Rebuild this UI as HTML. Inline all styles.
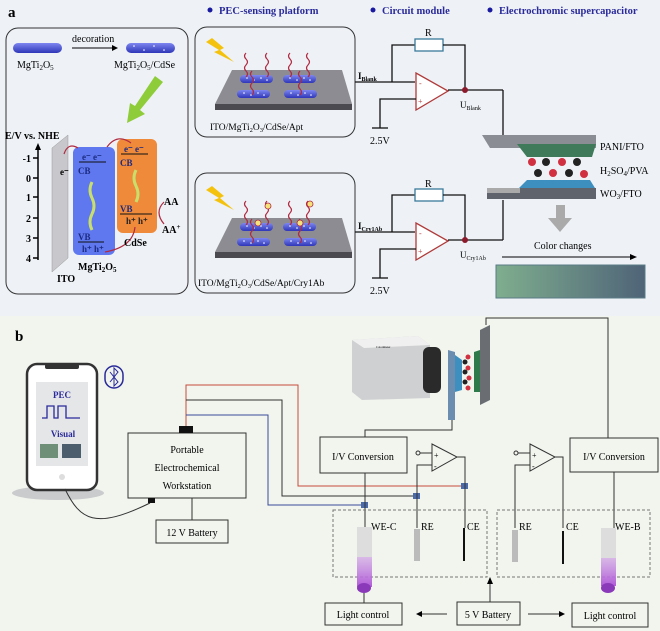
<!DOCTYPE html>
<html><head><meta charset="utf-8"><style>
body{margin:0;background:#fff}
svg{display:block;font-family:"Liberation Serif",serif}
</style></head><body>
<svg width="660" height="631" viewBox="0 0 660 631" xmlns="http://www.w3.org/2000/svg">
<defs>
<linearGradient id="rod" x1="0" y1="0" x2="0" y2="1"><stop offset="0" stop-color="#7d86f0"/><stop offset="1" stop-color="#2f36b8"/></linearGradient>
<linearGradient id="cg" x1="0" y1="0" x2="1" y2="0"><stop offset="0" stop-color="#7fae8e"/><stop offset="1" stop-color="#4f6478"/></linearGradient>
<linearGradient id="uv" x1="0" y1="0" x2="0" y2="1"><stop offset="0" stop-color="#e6d8ee" stop-opacity="0.3"/><stop offset="1" stop-color="#b15ad8"/></linearGradient>
<g id="rodd"><rect x="0" y="0" width="33" height="8" rx="4" fill="url(#rod)"/><circle cx="7" cy="3" r="0.8" fill="#fff"/><circle cx="14" cy="5" r="0.8" fill="#fff"/><circle cx="21" cy="3" r="0.8" fill="#fff"/><circle cx="27" cy="5" r="0.8" fill="#fff"/></g>
<g id="plat"><polygon points="232,70 342,70 352,104 215,104" fill="#8c8c92"/><rect x="215" y="104" width="137" height="6" fill="#4a4a50"/>
<use href="#rodd" x="240" y="75"/><use href="#rodd" x="283" y="75"/><use href="#rodd" x="237" y="90"/><use href="#rodd" x="284" y="90"/>
<polygon points="212,38 224,48 220,50 234,62 214,52 219,50 206,42" fill="#f4c20d"/></g>
<g id="wave" fill="none" stroke="#b02a40" stroke-width="1.2"><path d="M0,0 q3,-3 0,-6 q-3,-3 0,-6 q3,-3 0,-6 q-3,-3 0,-6"/></g>
</defs>
<rect x="0" y="0" width="660" height="316" fill="#eef2f7"/>
<rect x="0" y="316" width="660" height="315" fill="#f1f5ee"/>
<text x="8" y="17" font-size="15" font-weight="bold">a</text>
<g font-size="10.5" font-weight="bold" fill="#2a2a9a">
<circle cx="210" cy="10" r="2.5" fill="#1a1aa0"/><text x="219" y="14">PEC-sensing platform</text>
<circle cx="373" cy="10" r="2.5" fill="#1a1aa0"/><text x="382" y="14">Circuit module</text>
<circle cx="490" cy="10" r="2.5" fill="#1a1aa0"/><text x="499" y="14">Electrochromic supercapacitor</text></g>
<rect x="6" y="28" width="182" height="266" rx="12" fill="none" stroke="#333"/>
<rect x="13" y="43" width="49" height="10" rx="5" fill="url(#rod)"/>
<text x="17" y="68" font-size="10">MgTi<tspan font-size="7" dy="2">2</tspan><tspan dy="-2">O</tspan><tspan font-size="7" dy="2">5</tspan></text>
<text x="72" y="42" font-size="10">decoration</text>
<line x1="72" y1="48" x2="114" y2="48" stroke="#000"/><polygon points="118,48 112,45 112,51"/>
<rect x="126" y="43" width="49" height="10" rx="5" fill="url(#rod)"/>
<g fill="#fff"><circle cx="134" cy="46" r="0.8"/><circle cx="144" cy="50" r="0.8"/><circle cx="154" cy="46" r="0.8"/><circle cx="164" cy="50" r="0.8"/></g>
<text x="114" y="68" font-size="10">MgTi<tspan font-size="7" dy="2">2</tspan><tspan dy="-2">O</tspan><tspan font-size="7" dy="2">5</tspan><tspan dy="-2">/CdSe</tspan></text>
<polygon points="155,76 163,82 140,110 145,114 127,123 130,103 135,106" fill="#8fcc3a"/>
<text x="5" y="139" font-size="10" font-weight="bold">E/V vs. NHE</text>
<line x1="38" y1="148" x2="38" y2="260" stroke="#000" stroke-width="1.5"/><polygon points="38,143 35,150 41,150"/>
<g font-size="10" font-weight="bold" text-anchor="end"><text x="31" y="162">-1</text><text x="31" y="182">0</text><text x="31" y="201">1</text><text x="31" y="222">2</text><text x="31" y="242">3</text><text x="31" y="262">4</text></g>
<g stroke="#000" stroke-width="1.5"><line x1="33" y1="158" x2="38" y2="158"/><line x1="33" y1="178" x2="38" y2="178"/><line x1="33" y1="197" x2="38" y2="197"/><line x1="33" y1="218" x2="38" y2="218"/><line x1="33" y1="238" x2="38" y2="238"/><line x1="33" y1="258" x2="38" y2="258"/></g>
<polygon points="52,148 68,135 68,258 52,272" fill="#c8c8cc" stroke="#999" stroke-width="0.5"/>
<rect x="73" y="147" width="42" height="108" rx="6" fill="#5f78f0"/>
<rect x="117" y="139" width="40" height="94" rx="6" fill="#ef8a3a"/>
<g font-size="9" font-weight="bold" fill="#1b2a80">
<text x="82" y="160">e⁻ e⁻</text><line x1="79" y1="162" x2="106" y2="162" stroke="#111"/><text x="78" y="174">CB</text>
<text x="78" y="240">VB</text><line x1="78" y1="242" x2="104" y2="242" stroke="#111"/><text x="82" y="252">h⁺ h⁺</text>
<text x="124" y="152">e⁻ e⁻</text><line x1="121" y1="154" x2="148" y2="154" stroke="#111"/><text x="120" y="166">CB</text>
<text x="120" y="212">VB</text><line x1="120" y1="214" x2="152" y2="214" stroke="#111"/><text x="126" y="224" fill="#222">h⁺ h⁺</text></g>
<text x="60" y="175" font-size="9" font-weight="bold">e⁻</text>
<path d="M92,182 q-4,8 0,16 q4,8 0,16 q-4,8 0,16" stroke="#c9df6a" stroke-width="3" fill="none"/>
<path d="M136,170 q-4,8 0,16 q4,8 0,16" stroke="#c9df6a" stroke-width="3" fill="none"/>
<g fill="none" stroke="#b02a40" stroke-width="1.2"><path d="M78,148 q-10,-6 -14,6"/><path d="M107,147 q10,-14 24,-4"/><path d="M164,202 q-10,10 0,22"/><path d="M135,227 q-2,20 -30,25"/></g>
<g font-size="10" font-weight="bold"><text x="164" y="205">AA</text><text x="162" y="233">AA<tspan font-size="7" dy="-4">+</tspan></text><text x="124" y="246">CdSe</text>
<text x="78" y="270">MgTi<tspan font-size="7" dy="2">2</tspan><tspan dy="-2">O</tspan><tspan font-size="7" dy="2">5</tspan></text><text x="57" y="282">ITO</text></g>
<rect x="195" y="27" width="160" height="110" rx="12" fill="none" stroke="#333"/>
<rect x="195" y="173" width="160" height="120" rx="12" fill="none" stroke="#333"/>
<use href="#plat"/>
<use href="#wave" x="246" y="77"/><use href="#wave" x="267" y="77"/><use href="#wave" x="290" y="77"/><use href="#wave" x="308" y="77"/><use href="#wave" x="252" y="95"/><use href="#wave" x="300" y="95"/>
<text x="210" y="130" font-size="9.5">ITO/MgTi<tspan font-size="6.5" dy="2">2</tspan><tspan dy="-2">O</tspan><tspan font-size="6.5" dy="2">3</tspan><tspan dy="-2">/CdSe/Apt</tspan></text>
<g transform="translate(0,148)"><use href="#plat"/>
<use href="#wave" x="246" y="77"/><use href="#wave" x="267" y="77"/><use href="#wave" x="290" y="77"/><use href="#wave" x="308" y="77"/><use href="#wave" x="252" y="95"/><use href="#wave" x="300" y="95"/>
<g fill="#f7e27a" stroke="#b02a40" stroke-width="0.8"><circle cx="258" cy="75" r="3"/><circle cx="310" cy="56" r="3"/><circle cx="268" cy="58" r="3"/><circle cx="300" cy="75" r="3"/></g></g>
<text x="198" y="286" font-size="9.5">ITO/MgTi<tspan font-size="6.5" dy="2">2</tspan><tspan dy="-2">O</tspan><tspan font-size="6.5" dy="2">3</tspan><tspan dy="-2">/CdSe/Apt/Cry1Ab</tspan></text>
<g fill="none" stroke="#111" stroke-width="1.3">
<line x1="355" y1="82" x2="415" y2="82"/><polyline points="392,82 392,45 415,45"/><rect x="415" y="39" width="28" height="12" stroke="#3a7a9a" fill="#fff"/><polyline points="443,45 465,45 465,90"/>
<polygon points="416,73 416,110 448,91" stroke="#b03a3a" fill="#fff"/><line x1="448" y1="90" x2="503" y2="90"/>
<polyline points="416,99 380,99 380,128"/><line x1="372" y1="128" x2="388" y2="128"/>
</g>
<text x="425" y="36" font-size="10">R</text>
<g font-size="8" fill="#b03a3a"><text x="419" y="86">-</text><text x="418" y="104">+</text></g>
<circle cx="465" cy="90" r="3" fill="#8b1a2a"/>
<polyline points="503,90 503,135" fill="none" stroke="#111" stroke-width="1.3"/>
<text x="358" y="79" font-size="9" font-weight="bold">I<tspan font-size="6" dy="2">Blank</tspan></text>
<text x="460" y="108" font-size="9">U<tspan font-size="6" dy="2">Blank</tspan></text>
<text x="370" y="144" font-size="10">2.5V</text>
<g transform="translate(0,150)" fill="none" stroke="#111" stroke-width="1.3">
<line x1="355" y1="82" x2="415" y2="82"/><polyline points="392,82 392,45 415,45"/><rect x="415" y="39" width="28" height="12" stroke="#3a7a9a" fill="#fff"/><polyline points="443,45 465,45 465,90"/>
<polygon points="416,73 416,110 448,91" stroke="#b03a3a" fill="#fff"/><line x1="448" y1="90" x2="503" y2="90"/>
<polyline points="416,99 380,99 380,128"/><line x1="372" y1="128" x2="388" y2="128"/><polyline points="503,90 503,50"/>
</g>
<text x="425" y="187" font-size="10">R</text>
<g font-size="8" fill="#b03a3a"><text x="419" y="236">-</text><text x="418" y="254">+</text></g>
<circle cx="465" cy="240" r="3" fill="#8b1a2a"/>
<text x="358" y="229" font-size="9" font-weight="bold">I<tspan font-size="6" dy="2">Cry1Ab</tspan></text>
<text x="460" y="258" font-size="9">U<tspan font-size="6" dy="2">Cry1Ab</tspan></text>
<text x="370" y="294" font-size="10">2.5V</text>
<polygon points="482,135 596,135 596,148 490,148" fill="#8a8d94"/><polygon points="517,144 596,144 592,157 527,157" fill="#3f7a5a"/>
<g>
<circle cx="532" cy="162" r="4" fill="#d03040"/><circle cx="546" cy="162" r="4" fill="#222"/><circle cx="562" cy="162" r="4" fill="#d03040"/><circle cx="577" cy="162" r="4" fill="#222"/>
<circle cx="538" cy="173" r="4" fill="#222"/><circle cx="553" cy="173" r="4" fill="#d03040"/><circle cx="569" cy="173" r="4" fill="#222"/><circle cx="584" cy="174" r="4" fill="#d03040"/></g>
<polygon points="527,180 590,180 595,188 519,188" fill="#3d8fc0"/><polygon points="487,188 596,188 596,199 487,199" fill="#5f636b"/><polygon points="487,188 520,188 520,193 487,193" fill="#aaa"/>
<g font-size="10"><text x="600" y="150">PANI/FTO</text><text x="600" y="174">H<tspan font-size="7" dy="2">2</tspan><tspan dy="-2">SO</tspan><tspan font-size="7" dy="2">4</tspan><tspan dy="-2">/PVA</tspan></text><text x="600" y="197">WO<tspan font-size="7" dy="2">3</tspan><tspan dy="-2">/FTO</tspan></text></g>
<polygon points="556,205 565,205 565,218 572,218 560,232 548,218 556,218" fill="#aaa"/>
<text x="534" y="249" font-size="10">Color changes</text>
<line x1="502" y1="257" x2="632" y2="257" stroke="#000"/><polygon points="637,257 630,254 630,260"/>
<rect x="496" y="265" width="149" height="33" fill="url(#cg)" stroke="#5a7a86"/>
<text x="15" y="341" font-size="15" font-weight="bold">b</text>
<ellipse cx="58" cy="493" rx="46" ry="7" fill="#c9cbcc"/>
<rect x="27" y="364" width="70" height="126" rx="10" fill="#fff" stroke="#333" stroke-width="2.5"/>
<rect x="45" y="364" width="34" height="5" rx="2" fill="#333"/>
<rect x="36" y="382" width="52" height="84" fill="#e4e6e8"/>
<text x="62" y="398" font-size="9" font-weight="bold" fill="#2a2a9a" text-anchor="middle">PEC</text>
<polyline points="42,418 47,418 47,406 54,406 54,418 58,418 58,406 66,406 66,418 80,418" fill="none" stroke="#2a2a9a" stroke-width="1.3"/>
<text x="63" y="437" font-size="9" font-weight="bold" fill="#2a2a9a" text-anchor="middle">Visual</text>
<rect x="40" y="444" width="18" height="14" fill="#6f8f78"/><rect x="62" y="444" width="19" height="14" fill="#4c5e6e"/>
<circle cx="62" cy="477" r="3" fill="#ddd"/>
<rect x="105" y="366" width="18" height="22" rx="9" fill="none" stroke="#2a2a9a" stroke-width="1.5"/>
<polyline points="110,372 118,382 114,386 114,368 118,372 110,382" fill="none" stroke="#2a2a9a"/>
<path d="M65,489 C80,520 95,530 150,503" fill="none" stroke="#333"/>
<rect x="128" y="433" width="118" height="65" fill="none" stroke="#333"/>
<g font-size="10" text-anchor="middle"><text x="187" y="453">Portable</text><text x="187" y="471">Electrochemical</text><text x="187" y="489">Workstation</text></g>
<rect x="179" y="426" width="14" height="7" fill="#111"/><rect x="148" y="498" width="7" height="5" fill="#111"/>
<line x1="192" y1="498" x2="192" y2="520" stroke="#333"/>
<rect x="156" y="520" width="72" height="23" fill="none" stroke="#333"/><text x="192" y="536" font-size="10" text-anchor="middle">12 V Battery</text>
<polyline points="186,426 186,385 298,385 298,486 465,486" fill="none" stroke="#c84a3a"/>
<polyline points="186,400 282,400 282,496 417,496" fill="none" stroke="#333"/>
<polyline points="186,415 268,415 268,505 365,505" fill="none" stroke="#3a4a9a"/>
<g fill="#4a6aaa"><rect x="461" y="483" width="7" height="6"/><rect x="413" y="493" width="7" height="6"/><rect x="361" y="502" width="7" height="6"/></g>
<polygon points="352,340 418,336 430,345 430,398 362,400 352,392" fill="#cfd0d2"/><polygon points="352,340 418,336 430,345 364,348" fill="#f0f0f0"/>
<rect x="423" y="347" width="18" height="46" rx="6" fill="#2a2a2a"/><text x="376" y="348" font-size="3">Colorimeter</text>
<polygon points="448,350 455,352 455,420 448,420" fill="#6a8db0"/><polygon points="455,355 462,360 462,390 455,392" fill="#3d8fc0"/>
<polygon points="480,330 490,325 490,400 480,405" fill="#6a6d72"/><polygon points="474,352 480,350 480,392 474,392" fill="#2f7a4a"/>
<g><circle cx="468" cy="357" r="2.5" fill="#d03040"/><circle cx="465" cy="362" r="2.5" fill="#222"/><circle cx="468" cy="368" r="2.5" fill="#d03040"/><circle cx="465" cy="372" r="2.5" fill="#222"/><circle cx="469" cy="378" r="2.5" fill="#d03040"/><circle cx="465" cy="382" r="2.5" fill="#222"/><circle cx="468" cy="388" r="2.5" fill="#d03040"/></g>
<polyline points="486,325 486,318 608,318 608,438" fill="none" stroke="#333"/>
<polyline points="452,420 452,430 365,430 365,437" fill="none" stroke="#333"/>
<rect x="320" y="437" width="87" height="36" fill="none" stroke="#333"/><text x="363" y="460" font-size="10" text-anchor="middle">I/V Conversion</text>
<rect x="570" y="438" width="88" height="34" fill="none" stroke="#333"/><text x="614" y="460" font-size="10" text-anchor="middle">I/V Conversion</text>
<g fill="none" stroke="#333">
<line x1="365" y1="473" x2="365" y2="527"/><line x1="614" y1="472" x2="614" y2="528"/>
<polygon points="432,444 432,471 457,457"/><circle cx="418" cy="453" r="2"/><line x1="420" y1="453" x2="432" y2="453"/><polyline points="432,465 417,465 417,528"/><polyline points="457,457 465,457 465,528"/>
<polygon points="530,444 530,471 555,457"/><circle cx="516" cy="453" r="2"/><line x1="518" y1="453" x2="530" y2="453"/><polyline points="530,465 515,465 515,528"/><polyline points="555,457 563,457 563,528"/>
<rect x="333" y="510" width="154" height="67" stroke-dasharray="3,2" stroke="#777"/><rect x="497" y="510" width="153" height="67" stroke-dasharray="3,2" stroke="#777"/>
</g>
<g font-size="8"><text x="434" y="458">+</text><text x="434" y="469">-</text><text x="532" y="458">+</text><text x="532" y="469">-</text></g>
<g font-size="10"><text x="371" y="530">WE-C</text><text x="421" y="530">RE</text><text x="467" y="530">CE</text><text x="519" y="530">RE</text><text x="566" y="530">CE</text><text x="615" y="530">WE-B</text></g>
<rect x="357" y="527" width="15" height="60" fill="url(#uv)"/><rect x="357" y="527" width="15" height="30" fill="#ddd"/>
<rect x="601" y="528" width="15" height="58" fill="url(#uv)"/><rect x="601" y="528" width="15" height="30" fill="#ddd"/>
<rect x="414" y="529" width="6" height="32" fill="#bbb"/><rect x="512" y="530" width="6" height="32" fill="#bbb"/>
<rect x="463" y="528" width="2" height="33" fill="#111"/><rect x="562" y="531" width="2" height="33" fill="#111"/>
<ellipse cx="364" cy="588" rx="7" ry="5" fill="#8a3ab8"/><ellipse cx="608" cy="588" rx="7" ry="5" fill="#8a3ab8"/>
<line x1="364" y1="593" x2="364" y2="603" stroke="#333"/>
<rect x="325" y="603" width="77" height="22" fill="none" stroke="#333"/><text x="363" y="618" font-size="10" text-anchor="middle">Light control</text>
<rect x="457" y="602" width="63" height="23" fill="none" stroke="#333"/><text x="488" y="618" font-size="10" text-anchor="middle">5 V Battery</text>
<rect x="572" y="603" width="76" height="24" fill="none" stroke="#333"/><text x="610" y="619" font-size="10" text-anchor="middle">Light control</text>
<line x1="447" y1="614" x2="420" y2="614" stroke="#333"/><polygon points="416,614 422,611 422,617"/>
<line x1="490" y1="602" x2="490" y2="582" stroke="#333"/><polygon points="490,577 487,584 493,584"/>
<line x1="528" y1="614" x2="560" y2="614" stroke="#333"/><polygon points="565,614 559,611 559,617"/>
</svg>
</body></html>
